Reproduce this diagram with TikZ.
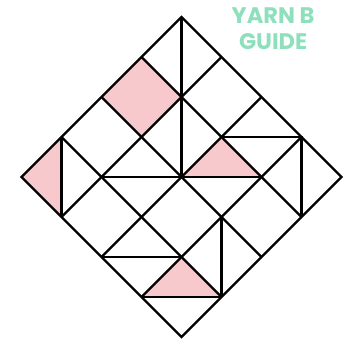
\documentclass[tikz,border=0pt]{standalone}
\usepackage{fontspec}
\setmainfont{Poppins}
\definecolor{blush}{HTML}{F7C9CC}
\definecolor{mint}{HTML}{8EE0BC}
\begin{document}
\begin{tikzpicture}[x=40pt,y=40pt,
  seam/.style={line width=2.3pt,line join=miter},
  patch/.style={fill=blush}]
\useasboundingbox (-4.5375,-4.1) rectangle (4.2875,4.425);
% pink pieces
\fill[patch] (-1,3) -- (0,2) -- (-1,1) -- (-2,2) -- cycle;
\fill[patch] (-4,0) -- (-3,1) -- (-3,-1) -- cycle;
\fill[patch] (0,0) -- (1,1) -- (2,0) -- cycle;
\fill[patch] (-1,-3) -- (0,-2) -- (1,-3) -- cycle;
% grid, both diagonals
\foreach \c in {-2,0,2} {
  \draw[seam] ({(\c-4)/2},{(-4-\c)/2}) -- ({(\c+4)/2},{(4-\c)/2});
  \draw[seam] ({(\c-4)/2},{(\c+4)/2}) -- ({(\c+4)/2},{(\c-4)/2});
}
% split squares
\draw[seam] (0,4) -- (0,0);
\draw[seam] (-3,1) -- (-3,-1);
\draw[seam] (-2,0) -- (2,0);
\draw[seam] (1,1) -- (3,1) -- (3,-1);
\draw[seam] (1,-1) -- (1,-3);
\draw[seam] (-2,-2) -- (0,-2);
\draw[seam] (-1,-3) -- (1,-3);
% outline
\draw[seam] (0,4) -- (4,0) -- (0,-4) -- (-4,0) -- cycle;
\node[text=mint,font=\bfseries\fontsize{22.5}{26}\selectfont,align=center] (guide) at (2.29,3.72) {YARN B\\GUIDE};
\end{tikzpicture}
\end{document}
